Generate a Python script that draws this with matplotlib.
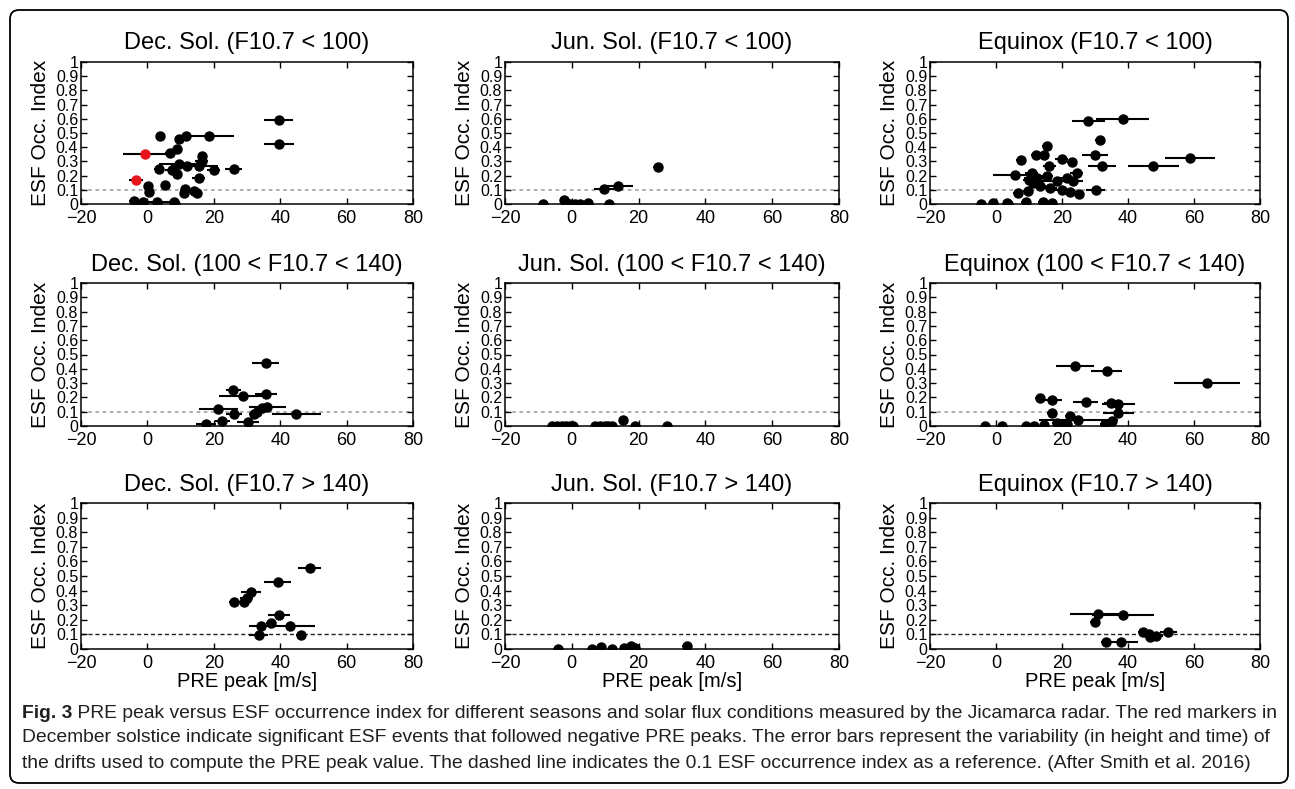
import matplotlib
matplotlib.use("Agg")
import matplotlib.pyplot as plt
from matplotlib import font_manager
from matplotlib.patches import FancyBboxPatch
from matplotlib.transforms import IdentityTransform

plt.rcParams['font.family'] = ['Liberation Sans', 'DejaVu Sans']

# ---------------- data ----------------
titles = [
    "Dec. Sol. (F10.7 < 100)", "Jun. Sol. (F10.7 < 100)", "Equinox (F10.7 < 100)",
    "Dec. Sol. (100 < F10.7 < 140)", "Jun. Sol. (100 < F10.7 < 140)", "Equinox (100 < F10.7 < 140)",
    "Dec. Sol. (F10.7 > 140)", "Jun. Sol. (F10.7 > 140)", "Equinox (F10.7 > 140)",
]

dec_low_x = [39.5, 39.7, 3.9, 9.4, 11.7, 18.5, 6.7, 8.9, 16.4, 16.4, 9.4, 3.4, 7.4, 8.9, 15.4, 20.0, 26.0, 12.0,
             15.4, 0.2, 0.4, 5.2, 10.9, 11.4, 13.9, 14.9, -4.1, -1.4, 2.9, 7.9, 8.4]
dec_low_y = [0.59, 0.42, 0.48, 0.46, 0.48, 0.48, 0.36, 0.39, 0.34, 0.30, 0.28, 0.25, 0.24, 0.21, 0.265, 0.24, 0.25, 0.27,
             0.18, 0.13, 0.085, 0.135, 0.077, 0.105, 0.095, 0.077, 0.02, 0.015, 0.012, 0.012, 0.0]
dec_low_err = [4.5, 4.5, 1.0, 1.0, 1.5, 7.5, 1.5, 1.0, 1.0, 2.0, 6.0, 1.5, 2.0, 1.5, 6.0, 2.0, 2.5, 5.0,
               2.0, 1.0, 1.0, 1.0, 1.0, 1.0, 1.5, 1.0, 1.5, 1.0, 4.0, 1.5, 1.0]
dec_low_red_x = [-0.6, -3.4]
dec_low_red_y = [0.355, 0.167]
dec_low_red_err = [6.6, 2.0]

jun_low_x = [-8.5, -2.3, -1.6, -0.6, 0.9, 2.4, 4.9, 11.2, 9.6, 13.7, 25.7]
jun_low_y = [0.0, 0.028, 0.01, 0.0, 0.0, 0.0, 0.007, 0.0, 0.108, 0.125, 0.26]
jun_low_err = [1.0, 1.0, 1.0, 1.0, 1.0, 1.0, 1.5, 1.0, 3.0, 4.5, 1.5]

equ_low_x = [38.4, 28.0, 31.5, 30.0, 58.8, 47.7, 32.2, 15.4, 12.0, 14.6, 7.6, 19.9, 22.9, 16.1, 5.8, 10.8, 10.1,
             11.3, 12.5, 15.4, 18.4, 21.4, 24.4, 23.4, 6.8, 9.8, 13.3, 16.4, 19.9, 22.4, 25.0, 30.2, 9.1, 14.3,
             16.9, -4.5, -1.0, 3.4, 3.7]
equ_low_y = [0.60, 0.584, 0.45, 0.342, 0.325, 0.27, 0.267, 0.41, 0.342, 0.342, 0.31, 0.318, 0.297, 0.27, 0.205,
             0.217, 0.172, 0.149, 0.184, 0.196, 0.16, 0.184, 0.215, 0.16, 0.078, 0.09, 0.125, 0.113, 0.10, 0.083,
             0.073, 0.10, 0.017, 0.017, 0.005, 0.0, 0.01, 0.01, 0.0]
equ_low_err = [8.0, 5.0, 1.5, 4.0, 7.7, 7.7, 4.3, 1.5, 1.5, 1.5, 1.5, 2.0, 1.5, 2.0, 6.8, 2.0, 2.0, 2.0, 4.0,
               2.0, 5.0, 3.0, 2.0, 3.0, 1.5, 1.5, 2.0, 2.0, 2.0, 2.0, 1.5, 2.8, 1.5, 1.5, 1.5, 1.0, 1.0, 1.0, 1.0]

dec_mid_x = [35.6, 25.9, 28.9, 35.8, 21.4, 26.1, 32.1, 33.1, 34.6, 36.1, 44.9, 17.6, 22.6, 30.3]
dec_mid_y = [0.438, 0.255, 0.21, 0.222, 0.122, 0.084, 0.082, 0.10, 0.124, 0.136, 0.082, 0.016, 0.035, 0.028]
dec_mid_err = [4.0, 2.3, 7.3, 3.3, 6.0, 2.5, 1.5, 1.5, 1.5, 5.5, 7.3, 3.0, 2.3, 3.3]

jun_mid_x = [-6.0, -4.3, -3.0, -1.7, -0.5, 0.5, 6.9, 8.4, 9.9, 10.9, 11.9, 15.4, 18.9, 28.4]
jun_mid_y = [0.0, 0.0, 0.0, 0.0, 0.0, 0.0, 0.0, 0.0, 0.0, 0.0, 0.0, 0.04, 0.0, 0.0]
jun_mid_err = [1.0, 1.0, 1.0, 1.0, 1.0, 1.0, 1.0, 1.0, 1.0, 1.0, 1.0, 1.0, 1.0, 1.0]

equ_mid_x = [23.9, 33.5, 63.8, 13.3, 17.1, 27.2, 34.7, 37.1, 17.1, 37.1, 22.4, 35.3, 18.4, 20.4, 24.9, 33.0,
             -3.3, 1.7, 9.1, 11.6, 14.6, 21.4]
equ_mid_y = [0.42, 0.386, 0.302, 0.197, 0.18, 0.169, 0.162, 0.157, 0.094, 0.094, 0.068, 0.035, 0.023, 0.016,
             0.04, 0.012, 0.0, 0.0, 0.0, 0.0, 0.005, 0.016]
equ_mid_err = [5.8, 4.8, 10.0, 1.5, 3.0, 3.8, 2.0, 5.0, 1.5, 4.6, 1.5, 1.5, 1.5, 1.5, 12.0, 1.5,
               1.0, 1.0, 1.0, 1.0, 1.0, 1.5]

dec_high_x = [48.9, 39.2, 31.2, 29.9, 29.2, 26.2, 39.7, 37.2, 34.2, 42.9, 33.5, 46.2]
dec_high_y = [0.554, 0.458, 0.39, 0.35, 0.32, 0.32, 0.23, 0.176, 0.16, 0.16, 0.096, 0.096]
dec_high_err = [3.5, 4.0, 3.0, 2.0, 2.0, 1.5, 3.3, 1.5, 3.5, 7.5, 2.8, 1.5]

jun_high_x = [-4.0, 6.0, 8.8, 12.1, 15.6, 17.8, 18.8, 34.6]
jun_high_y = [0.0, 0.0, 0.016, 0.0, 0.005, 0.023, 0.005, 0.023]
jun_high_err = [1.0, 1.0, 1.0, 1.0, 1.0, 1.0, 1.0, 1.5]

equ_high_x = [30.8, 38.5, 30.0, 44.5, 46.5, 48.5, 46.7, 52.2, 33.2, 38.0]
equ_high_y = [0.24, 0.236, 0.188, 0.114, 0.103, 0.092, 0.08, 0.114, 0.05, 0.046]
equ_high_err = [8.5, 9.5, 1.5, 1.5, 2.0, 2.0, 1.5, 2.5, 1.5, 5.0]

panels = [
    (dec_low_x, dec_low_y, dec_low_err), (jun_low_x, jun_low_y, jun_low_err), (equ_low_x, equ_low_y, equ_low_err),
    (dec_mid_x, dec_mid_y, dec_mid_err), (jun_mid_x, jun_mid_y, jun_mid_err), (equ_mid_x, equ_mid_y, equ_mid_err),
    (dec_high_x, dec_high_y, dec_high_err), (jun_high_x, jun_high_y, jun_high_err), (equ_high_x, equ_high_y, equ_high_err),
]

x_ticks = [-20, 0, 20, 40, 60, 80]
y_ticks = [0, 0.1, 0.2, 0.3, 0.4, 0.5, 0.6, 0.7, 0.8, 0.9, 1.0]
y_tick_labels = ["0", "0.1", "0.2", "0.3", "0.4", "0.5", "0.6", "0.7", "0.8", "0.9", "1"]
reference_level = 0.1

caption_bold = "Fig. 3"
caption_lines = [
    " PRE peak versus ESF occurrence index for different seasons and solar flux conditions measured by the Jicamarca radar. The red markers in",
    "December solstice indicate significant ESF events that followed negative PRE peaks. The error bars represent the variability (in height and time) of",
    "the drifts used to compute the PRE peak value. The dashed line indicates the 0.1 ESF occurrence index as a reference. (After Smith et al. 2016)",
]

# ---------------- layout ----------------
W, H = 1295, 789
fig = plt.figure(figsize=(W / 100, H / 100), dpi=100)

col_px = [(81, 413), (505, 839), (930, 1260)]
row_px = [(62, 204), (283, 426), (503, 649)]

for i, (xs, ys, errs) in enumerate(panels):
    r, c = divmod(i, 3)
    x0, x1 = col_px[c]
    y0, y1 = row_px[r]
    ax = fig.add_axes([x0 / W, 1 - y1 / H, (x1 - x0) / W, (y1 - y0) / H])
    if r < 2:
        ax.axhline(reference_level, color='#a8a8a8', lw=1.3, ls=(0, (2, 2)), zorder=1)
    else:
        ax.axhline(reference_level, color='#222222', lw=1.0, ls=(0, (3, 2)), zorder=1)
    ax.errorbar(xs, ys, xerr=errs, fmt='o', color='black', ecolor='black',
                elinewidth=1.5, markersize=6.5, capsize=0, zorder=3)
    if i == 0:
        ax.errorbar(dec_low_red_x, dec_low_red_y, xerr=dec_low_red_err, fmt='o',
                    color='#e8141c', ecolor='black', elinewidth=1.5, markersize=6.5,
                    capsize=0, zorder=4)
    ax.set_xlim(-20, 80)
    ax.set_ylim(0, 1)
    ax.set_xticks(x_ticks)
    ax.set_yticks(y_ticks)
    ax.set_yticklabels(y_tick_labels)
    ax.tick_params(direction='in', length=4, width=1, top=True, right=True)
    ax.tick_params(axis='x', labelsize=13, pad=4)
    ax.tick_params(axis='y', labelsize=11.5, pad=2)
    for s in ax.spines.values():
        s.set_linewidth(1.1)
    ax.set_title(titles[i], fontsize=17, pad=9)
    ax.set_ylabel("ESF Occ. Index", fontsize=15, labelpad=4)
    if r == 2:
        ax.set_xlabel("PRE peak [m/s]", fontsize=14.5, labelpad=0)

# ---------------- caption ----------------
cap_family = ['Liberation Sans Narrow', 'Liberation Sans', 'DejaVu Sans']
try:
    font_manager.findfont(font_manager.FontProperties(family='Liberation Sans Narrow'),
                          fallback_to_default=False)
except Exception:
    cap_family = ['Liberation Sans', 'DejaVu Sans']

renderer = fig.canvas.get_renderer()
target_w = 1273 - 22
probe = fig.text(0, 0, caption_lines[1], fontsize=12, family=cap_family)
pw = probe.get_window_extent(renderer).width
probe.remove()
cap_size = 12 * target_w / pw

cap_color = '#231f20'
line_y = [713, 738, 764]
tb = fig.text(22 / W, 1 - line_y[0] / H, caption_bold, fontsize=cap_size, family=cap_family,
              weight='bold', color=cap_color, va='center', ha='left')
bw = tb.get_window_extent(renderer).width
fig.text((22 + bw) / W, 1 - line_y[0] / H, caption_lines[0], fontsize=cap_size, family=cap_family,
         color=cap_color, va='center', ha='left')
for k in (1, 2):
    fig.text(22 / W, 1 - line_y[k] / H, caption_lines[k], fontsize=cap_size, family=cap_family,
             color=cap_color, va='center', ha='left')

# ---------------- border ----------------
border = FancyBboxPatch((10, 6), 1278, 773, boxstyle="round,pad=0,rounding_size=9",
                        transform=IdentityTransform(), fill=False, lw=1.3, ec='black')
fig.add_artist(border)

fig.savefig("out.png", dpi=100)
